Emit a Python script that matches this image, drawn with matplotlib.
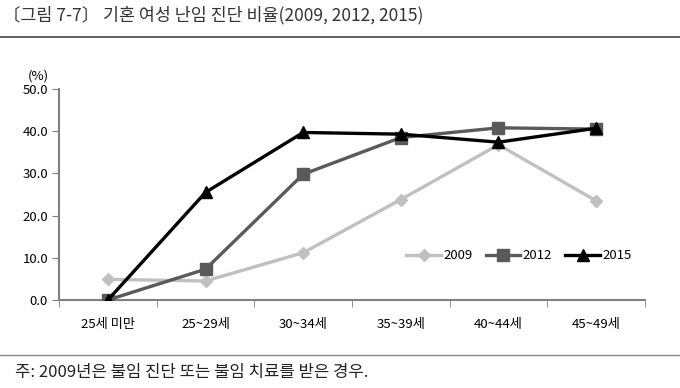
import matplotlib.pyplot as plt
import numpy as np

plt.rcParams["font.family"] = ["Noto Sans CJK KR", "DejaVu Sans"]

categories = ["25세 미만", "25~29세", "30~34세", "35~39세", "40~44세", "45~49세"]
v2009 = [4.9, 4.5, 11.2, 23.8, 36.8, 23.5]
v2012 = [0.0, 7.3, 29.8, 38.5, 40.8, 40.5]
v2015 = [0.0, 25.5, 39.7, 39.3, 37.4, 40.7]
yticks = [0, 10, 20, 30, 40, 50]

fig = plt.figure(figsize=(6.8, 3.88), dpi=100)
ax = fig.add_axes([0.0868, 0.2268, 0.8617, 0.5438])

x = np.arange(len(categories))
ax.plot(x, v2009, color="#c0c0c0", lw=2.4, marker="D", ms=6, label="2009")
ax.plot(x, v2012, color="#5a5a5a", lw=2.4, marker="s", ms=8, label="2012")
ax.plot(x, v2015, color="black", lw=2.4, marker="^", ms=8.5, label="2015")

ax.set_xlim(-0.5, len(categories) - 0.5)
ax.set_ylim(0, 50)
ax.set_yticks(yticks)
ax.set_yticklabels([f"{v:.1f}" for v in yticks], fontsize=9.5)
ax.set_xticks(x)
ax.set_xticklabels(categories, fontsize=9.5)
ax.set_xticks(np.arange(len(categories) + 1) - 0.5, minor=True)
ax.tick_params(axis="x", which="major", length=0, pad=13)
ax.tick_params(axis="x", which="minor", length=5, color="#808080", direction="out")
ax.tick_params(axis="y", length=5, color="#808080", direction="out", pad=3)

for side in ["top", "right"]:
    ax.spines[side].set_visible(False)
for side in ["left", "bottom"]:
    ax.spines[side].set_color("#808080")
    ax.spines[side].set_linewidth(1.5)
ax.spines["bottom"].set_zorder(0)

ax.text(-0.035, 1.03, "(%)", transform=ax.transAxes, fontsize=9.5, ha="center", va="bottom")

ax.legend(loc="center", bbox_to_anchor=(0.785, 0.21), ncol=3, frameon=False,
          fontsize=9.5, handlelength=2.6, columnspacing=1.0, handletextpad=0.2)

fig.text(0.005, 0.962, "〔그림 7-7〕 기혼 여성 난임 진단 비율(2009, 2012, 2015)",
         fontsize=12.5, color="#333333", ha="left", va="center")
fig.add_artist(plt.Line2D([0, 1], [0.905, 0.905], color="#444444", lw=1.2))
fig.add_artist(plt.Line2D([0, 1], [0.085, 0.085], color="#888888", lw=1.0))
fig.text(0.022, 0.04, "주: 2009년은 불임 진단 또는 불임 치료를 받은 경우.",
         fontsize=12, color="#222222", ha="left", va="center")

fig.savefig("out.png", dpi=100)
